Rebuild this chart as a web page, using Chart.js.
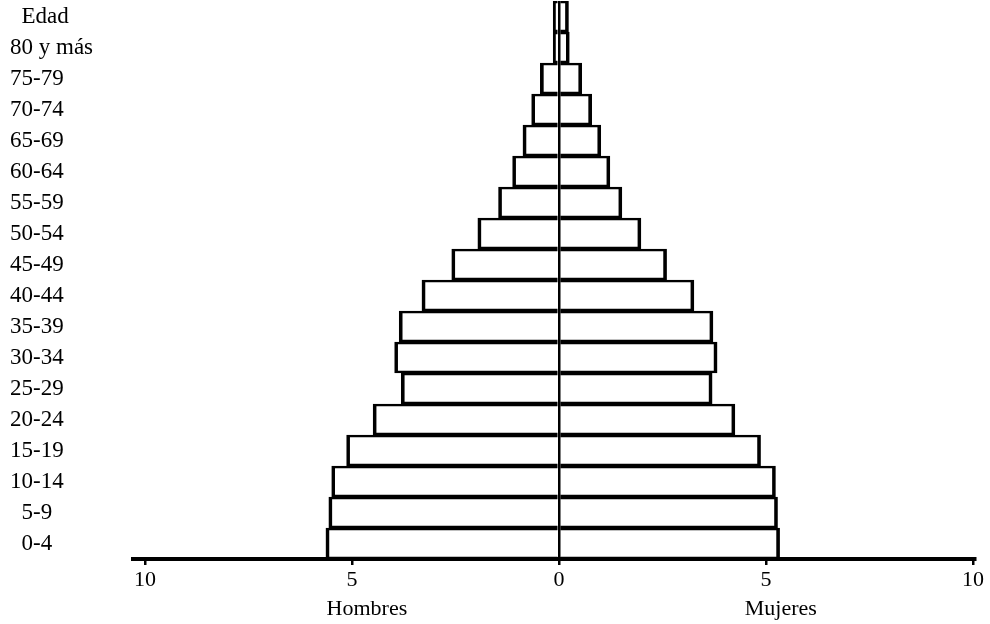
<!DOCTYPE html>
<html>
<head>
<meta charset="utf-8">
<script src="https://cdn.jsdelivr.net/npm/chart.js@4.4.1/dist/chart.umd.min.js"></script>
<style>
  body { margin: 0; background: #fff; }
  #wrap { width: 990px; height: 624px; }
</style>
</head>
<body>
<div id="wrap"><canvas id="pyramid"></canvas></div>
<script>
// age groups, bottom to top (the top row sits beside the "Edad" header)
const ageLabels = ['  0-4', '  5-9', '10-14', '15-19', '20-24', '25-29', '30-34', '35-39', '40-44',
  '45-49', '50-54', '55-59', '60-64', '65-69', '70-74', '75-79', '80 y más', '  Edad']
// percent of total population
const hombres = [5.63, 5.56, 5.49, 5.13, 4.49, 3.81, 3.97, 3.86, 3.31, 2.59, 1.96, 1.46, 1.12, 0.87, 0.66, 0.45, 0.14, 0.14]
const mujeres = [5.33, 5.28, 5.23, 4.87, 4.25, 3.70, 3.82, 3.72, 3.26, 2.60, 1.98, 1.52, 1.23, 1.01, 0.79, 0.55, 0.25, 0.23]
const xTicks = [-10, -5, 0, 5, 10]
const sexLabels = ['Hombres', 'Mujeres']

const serif = { family: 'Liberation Serif', size: 22 }
const xMin = -10.29
const xMax = 10.05

const barStyle = {
  backgroundColor: 'rgba(255,255,255,0)',
  borderColor: '#000',
  borderWidth: { top: 2, bottom: 2, left: 3, right: 3 },
  barPercentage: 1,
  categoryPercentage: 1
}

var ctx = document.getElementById('pyramid').getContext('2d')
var pyramid = new Chart(ctx, {
  type: 'bar',
  data: {
    labels: ageLabels,
    datasets: [
      Object.assign({ label: sexLabels[0], data: hombres.map(v => -v) }, barStyle),
      Object.assign({ label: sexLabels[1], data: mujeres }, barStyle)
    ]
  },
  options: {
    indexAxis: 'y',
    responsive: true,
    maintainAspectRatio: false,
    animation: false,
    layout: { padding: { left: 10, right: 15, top: 1, bottom: 0 } },
    plugins: {
      legend: { display: false },
      tooltip: { enabled: false }
    },
    scales: {
      x: {
        type: 'linear',
        stacked: true,
        min: xMin,
        max: xMax,
        weight: 0,
        afterBuildTicks: s => { s.ticks = xTicks.map(v => ({ value: v })) },
        afterFit: s => { s.height = 29 },
        ticks: {
          callback: v => Math.abs(v),
          color: '#000',
          font: serif,
          padding: 2,
          maxRotation: 0,
          autoSkip: false
        },
        grid: {
          color: c => (c.tick && c.tick.value === 0) ? '#000' : 'rgba(0,0,0,0)',
          lineWidth: 2.5,
          tickColor: '#000',
          tickLength: 6
        },
        border: { display: true, color: '#000', width: 4 }
      },
      x2: {
        type: 'linear',
        position: 'bottom',
        min: xMin,
        max: xMax,
        weight: 1,
        // names sit a little right of the 5 ticks, as in the original
        afterBuildTicks: s => { s.ticks = [{ value: -4.64 }, { value: 5.36 }] },
        afterFit: s => { s.height = 36 },
        ticks: {
          callback: (v, i) => sexLabels[i],
          color: '#000',
          font: serif,
          padding: 0,
          maxRotation: 0,
          autoSkip: false
        },
        grid: { display: false },
        border: { display: false }
      },
      y: {
        stacked: true,
        reverse: true,
        afterFit: s => {
          s.width = 123
          s.paddingTop = 0
          s.paddingBottom = 0
        },
        ticks: {
          crossAlign: 'far',
          color: '#000',
          font: { family: 'Liberation Serif', size: 23 },
          padding: 0,
          autoSkip: false
        },
        grid: { display: false },
        border: { display: false }
      }
    }
  }
})
</script>
</body>
</html>
